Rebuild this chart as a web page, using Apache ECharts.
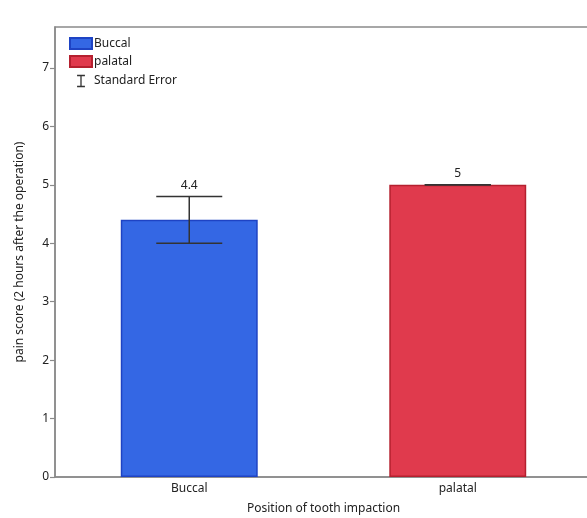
<!DOCTYPE html>
<html>
<head>
<meta charset="utf-8">
<script src="https://cdn.jsdelivr.net/npm/echarts@6/dist/echarts.min.js"></script>
<style>html,body{margin:0;padding:0;background:#fff}#c{width:587px;height:518px}</style>
</head>
<body>
<div id="c"></div>
<script>
const categories = ['Buccal', 'palatal'];
const buccalValues = [4.4, null];
const palatalValues = [null, 5];
const means = [4.4, 5];
const standardErrors = [0.4, 0];
const valueLabels = ['4.4', '5'];
const yTicks = [0, 1, 2, 3, 4, 5, 6, 7];

const chart = echarts.init(document.getElementById('c'));
const font = 'Noto Sans';
const errData = means.map((m, i) => [i, m, standardErrors[i], valueLabels[i]]);

chart.setOption({
  animation: false,
  textStyle: { fontFamily: font },
  grid: { left: 55, top: 27, width: 537, bottom: 41, outerBoundsMode: 'none', containLabel: false, show: true, borderColor: '#8a8a8a', borderWidth: 1.5, backgroundColor: 'transparent' },
  legend: {
    left: 64, top: 32, orient: 'vertical', itemGap: 5, itemWidth: 22, itemHeight: 11,
    textStyle: { fontSize: 12, color: '#222', fontFamily: font, padding: [0, 0, 0, -3] },
    data: [
      { name: 'Buccal', icon: 'rect' },
      { name: 'palatal', icon: 'rect' },
      { name: 'Standard Error', icon: 'path://M0,0 L10,0 M5,0 L5,14 M0,14 L10,14', itemStyle: { color: 'none', borderColor: '#333', borderWidth: 1.3 } }
    ]
  },
  xAxis: {
    type: 'category', data: categories,
    name: 'Position of tooth impaction', nameLocation: 'middle', nameGap: 26,
    nameTextStyle: { fontSize: 12, color: '#222' },
    axisLine: { lineStyle: { color: '#8a8a8a', width: 1.5 } },
    axisTick: { show: false },
    axisLabel: { fontSize: 12, color: '#222', margin: 6 }
  },
  yAxis: {
    type: 'value', min: 0, max: 7.7, interval: 1,
    name: 'pain score (2 hours after the operation)', nameLocation: 'middle', nameGap: 29,
    nameTextStyle: { fontSize: 12, color: '#222' },
    axisLine: { show: true, lineStyle: { color: '#8a8a8a', width: 1.5 } },
    axisTick: { show: true, length: 5, customValues: yTicks, lineStyle: { color: '#8a8a8a', width: 1.2 } },
    splitLine: { show: false },
    axisLabel: { fontSize: 12, color: '#222', margin: 6, customValues: yTicks }
  },
  series: [
    { name: 'Buccal', type: 'bar', stack: 's', barWidth: '51%', data: buccalValues,
      itemStyle: { color: '#3467e4', borderColor: '#1e43c4', borderWidth: 1.5 } },
    { name: 'palatal', type: 'bar', stack: 's', barWidth: '51%', data: palatalValues,
      itemStyle: { color: '#e03a4d', borderColor: '#b5202f', borderWidth: 1.5 } },
    { name: 'Standard Error', type: 'custom', data: errData, z: 10,
      itemStyle: { color: '#333' },
      renderItem: function (params, api) {
        const x = api.value(0), m = api.value(1), se = api.value(2);
        const top = api.coord([x, m + se]);
        const bot = api.coord([x, m - se]);
        const hw = 33;
        const st = { stroke: '#333', lineWidth: 1.5 };
        const label = errData[params.dataIndex][3];
        return { type: 'group', children: [
          { type: 'line', shape: { x1: top[0] - hw, y1: top[1], x2: top[0] + hw, y2: top[1] }, style: st },
          { type: 'line', shape: { x1: top[0], y1: top[1], x2: bot[0], y2: bot[1] }, style: st },
          { type: 'line', shape: { x1: bot[0] - hw, y1: bot[1], x2: bot[0] + hw, y2: bot[1] }, style: st },
          { type: 'text', style: { text: label, x: top[0], y: top[1] - 5, textAlign: 'center', textVerticalAlign: 'bottom', fontSize: 12, fontFamily: font, fill: '#222' } }
        ] };
      }
    }
  ]
});
</script>
</body>
</html>
